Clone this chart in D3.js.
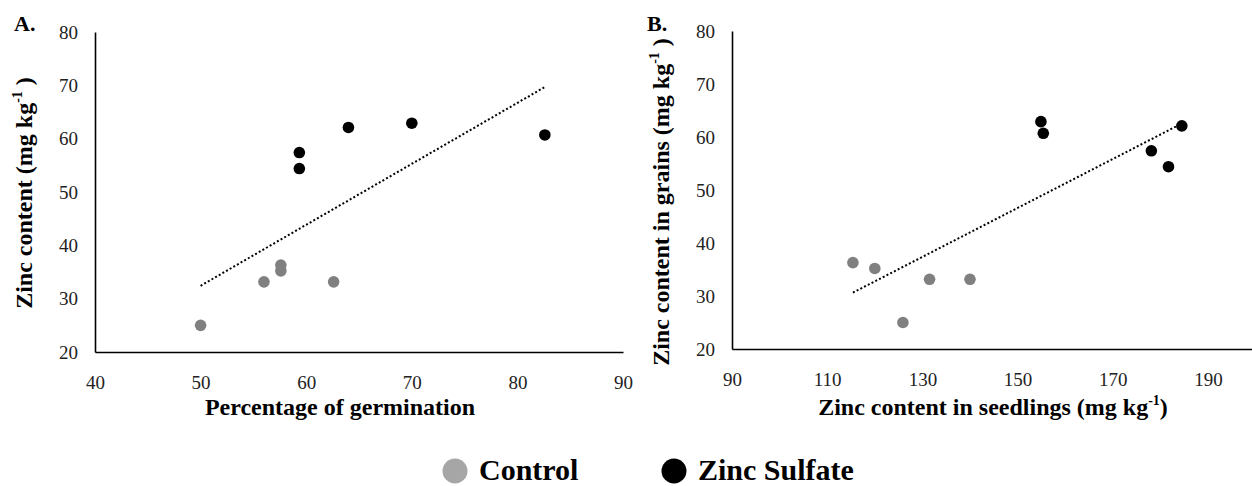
<!DOCTYPE html>
<html>
<head>
<meta charset="utf-8">
<script src="https://cdn.jsdelivr.net/npm/d3@7"></script>
<style>
  body { margin: 0; background: #fff; }
  text { font-family: "Liberation Serif", "Times New Roman", serif; }
</style>
</head>
<body>
<div id="chart"></div>
<script>
// grain zinc (mg/kg) shared by both panels
const controlGerm = [50, 56, 57.6, 57.6, 62.6];
const controlGrain = [25, 33.15, 36.3, 35.2, 33.15];
const zincGerm = [59.35, 59.35, 64, 70, 82.6];
const zincGrain = [57.4, 54.4, 62.1, 62.9, 60.7];

const controlSeedling = [125.9, 131.5, 115.4, 120, 140];
const zincSeedling = [178.1, 181.7, 184.5, 154.9, 155.4];

const xTicksA = [40, 50, 60, 70, 80, 90];
const xTicksB = [90, 110, 130, 150, 170, 190];
const yTicks = [20, 30, 40, 50, 60, 70, 80];

const legendLabels = ["Control", "Zinc Sulfate"];

const width = 1252, height = 486;
const serif = "Liberation Serif";

const svg = d3.select("#chart").append("svg")
  .attr("width", width)
  .attr("height", height)
  .style("display", "block");

function linearFit(xs, ys) {
  const mx = d3.mean(xs), my = d3.mean(ys);
  const sxy = d3.sum(xs, (x, i) => (x - mx) * (ys[i] - my));
  const sxx = d3.sum(xs, (x) => (x - mx) * (x - mx));
  const slope = sxy / sxx;
  return (x) => my + slope * (x - mx);
}

function panel(opts) {
  const g = svg.append("g").attr("font-family", serif);
  const x = d3.scaleLinear().domain(opts.xDomain).range(opts.xRange);
  const y = d3.scaleLinear().domain([20, 80]).range(opts.yRange);

  const xAxis = g.append("g")
    .attr("transform", `translate(0,${opts.yRange[0]})`)
    .call(d3.axisBottom(x).tickValues(opts.xTicks).tickSize(0).tickPadding(24));
  xAxis.attr("font-family", serif);
  xAxis.select(".domain").attr("stroke", "#000").attr("stroke-width", 1.6);
  xAxis.selectAll("text").attr("font-size", 19).attr("font-family", serif).attr("fill", "#222");

  const yAxis = g.append("g")
    .attr("transform", `translate(${opts.xRange[0]},0)`)
    .call(d3.axisLeft(y).tickValues(yTicks).tickSize(0).tickPadding(17));
  yAxis.attr("font-family", serif);
  yAxis.select(".domain").attr("stroke", "#000").attr("stroke-width", 1.6);
  yAxis.selectAll("text").attr("font-size", 19).attr("font-family", serif).attr("fill", "#222");

  // trend line over all points
  const allX = opts.cx.concat(opts.zx);
  const allY = controlGrain.concat(zincGrain);
  const fit = linearFit(allX, allY);
  const [x0, x1] = d3.extent(allX);
  g.append("line")
    .attr("x1", x(x0)).attr("y1", y(fit(x0)))
    .attr("x2", x(x1)).attr("y2", y(fit(x1)))
    .attr("stroke", "#000")
    .attr("stroke-width", 2)
    .attr("stroke-dasharray", "2,2.2");

  g.selectAll(".ctrl")
    .data(opts.cx.map((v, i) => [v, controlGrain[i]]))
    .join("circle")
    .attr("cx", (d) => x(d[0]))
    .attr("cy", (d) => y(d[1]))
    .attr("r", 5.8)
    .attr("fill", "#808080");

  g.selectAll(".zn")
    .data(opts.zx.map((v, i) => [v, zincGrain[i]]))
    .join("circle")
    .attr("cx", (d) => x(d[0]))
    .attr("cy", (d) => y(d[1]))
    .attr("r", 5.8)
    .attr("fill", "#000");

  g.append("text")
    .attr("x", opts.labelX)
    .attr("y", 31)
    .attr("font-family", serif)
    .attr("font-size", 22)
    .attr("font-weight", "bold")
    .text(opts.label);

  const xt = g.append("text")
    .attr("x", opts.xTitleX)
    .attr("y", 415)
    .attr("text-anchor", "middle")
    .attr("font-family", serif)
    .attr("font-size", 24)
    .attr("font-weight", "bold")
    .text(opts.xTitle[0]);
  if (opts.xTitle.length > 1) {
    xt.append("tspan").attr("font-size", 14).attr("dy", -10).text(opts.xTitle[1]);
    xt.append("tspan").attr("dy", 10).text(opts.xTitle[2]);
  }

  const yt = g.append("text")
    .attr("transform", `translate(${opts.yTitleX},${opts.yTitleY}) rotate(-90)`)
    .attr("text-anchor", "middle")
    .attr("font-family", serif)
    .attr("font-size", 24)
    .attr("font-weight", "bold")
    .text(opts.yTitle[0]);
  yt.append("tspan").attr("font-size", 14).attr("dy", -10).text(opts.yTitle[1]);
  yt.append("tspan").attr("dy", 10).text(opts.yTitle[2]);
}

panel({
  xDomain: [40, 90], xRange: [95, 623], yRange: [352, 32],
  xTicks: xTicksA, cx: controlGerm, zx: zincGerm,
  label: "A.", labelX: 14,
  xTitle: ["Percentage of germination"], xTitleX: 340,
  yTitle: ["Zinc content (mg kg", "-1", " )"],
  yTitleX: 32, yTitleY: 193
});

panel({
  xDomain: [90, 200], xRange: [732, 1255.6], yRange: [349, 31],
  xTicks: xTicksB, cx: controlSeedling, zx: zincSeedling,
  label: "B.", labelX: 647,
  xTitle: ["Zinc content in seedlings (mg kg", "-1", ")"], xTitleX: 993,
  yTitle: ["Zinc content in grains (mg kg", "-1", " )"],
  yTitleX: 669, yTitleY: 202
});

// legend
const legendColors = ["#a6a6a6", "#000"];
const legendX = [455, 674];
const lg = svg.append("g").attr("font-family", serif);
legendLabels.forEach((name, i) => {
  lg.append("circle")
    .attr("cx", legendX[i]).attr("cy", 471).attr("r", 12.5)
    .attr("fill", legendColors[i]);
  lg.append("text")
    .attr("x", legendX[i] + 24).attr("y", 480)
    .attr("font-family", serif)
    .attr("font-size", 30)
    .attr("font-weight", "bold")
    .text(name);
});
</script>
</body>
</html>
